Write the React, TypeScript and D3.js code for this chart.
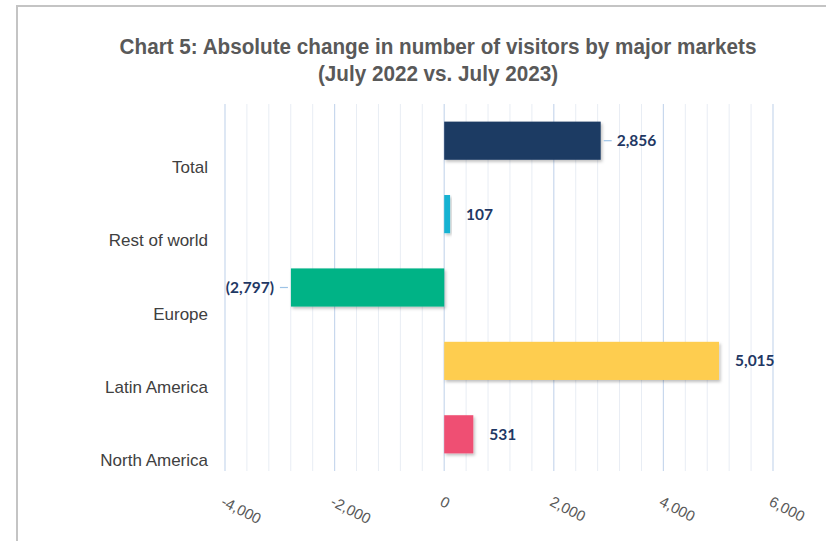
import React, { useEffect, useRef } from 'react';
import * as d3 from 'd3';

const categories = ['Total', 'Rest of world', 'Europe', 'Latin America', 'North America'];
const changes = [2856, 107, -2797, 5015, 531];
const barColors = ['#1b3a64', '#17b2d2', '#00b386', '#fecd4f', '#ef4f73'];
const withLeader = [true, false, true, false, false];
const xTicks = [-4000, -2000, 0, 2000, 4000, 6000];
const titleLines = [
  'Chart 5: Absolute change in number of visitors by major markets',
  '(July 2022 vs. July 2023)',
];

function App() {
  const svgRef = useRef<SVGSVGElement>(null);

  useEffect(() => {
    const width = 826;
    const height = 541;
    const plot = { left: 225, right: 773, top: 104, bottom: 471 };

    const svg = d3.select(svgRef.current);
    svg.selectAll('*').remove();

    // frame (only top and left edges visible in the crop)
    svg.append('path')
      .attr('d', `M17,${height} L17,6 L${width},6`)
      .attr('fill', 'none')
      .attr('stroke', '#c4c4c4')
      .attr('stroke-width', 2);

    // no narrow font installed, so squeeze a regular bold one
    svg.append('g')
      .attr('transform', 'translate(438,0) scale(0.94,1)')
      .selectAll('text')
      .data(titleLines)
      .join('text')
      .attr('x', 0)
      .attr('y', (d, i) => 54 + i * 27)
      .attr('text-anchor', 'middle')
      .style('font-family', '"Liberation Sans", Arial, sans-serif')
      .style('font-weight', 'bold')
      .style('font-size', '22px')
      .style('fill', '#595959')
      .text(d => d);

    const x = d3.scaleLinear().domain([-4000, 6000]).range([plot.left, plot.right]);
    const y = d3.scaleBand().domain(categories).range([plot.top, plot.bottom]).paddingInner(0.48).paddingOuter(0.24);

    // minor gridlines every 400, major every 2000
    const minor = d3.range(-4000, 6001, 400).filter(v => v % 2000 !== 0);
    svg.append('g')
      .selectAll('line')
      .data(minor)
      .join('line')
      .attr('x1', d => x(d))
      .attr('x2', d => x(d))
      .attr('y1', plot.top)
      .attr('y2', plot.bottom)
      .attr('stroke', '#e8edf4')
      .attr('stroke-width', 1);

    svg.append('g')
      .selectAll('line')
      .data(xTicks)
      .join('line')
      .attr('x1', d => x(d))
      .attr('x2', d => x(d))
      .attr('y1', plot.top)
      .attr('y2', plot.bottom)
      .attr('stroke', '#c8d8ed')
      .attr('stroke-width', 1.2);

    const defs = svg.append('defs');
    const shadow = defs.append('filter').attr('id', 'barShadow').attr('x', '-10%').attr('y', '-10%').attr('width', '130%').attr('height', '140%');
    shadow.append('feDropShadow')
      .attr('dx', 1.5)
      .attr('dy', 2)
      .attr('stdDeviation', 1.5)
      .attr('flood-color', '#000')
      .attr('flood-opacity', 0.25);

    const data = categories.map((c, i) => ({ cat: c, value: changes[i], color: barColors[i], leader: withLeader[i] }));

    svg.append('g')
      .selectAll('rect')
      .data(data)
      .join('rect')
      .attr('x', d => x(Math.min(0, d.value)))
      .attr('y', d => y(d.cat)!)
      .attr('width', d => Math.abs(x(d.value) - x(0)))
      .attr('height', y.bandwidth())
      .attr('fill', d => d.color)
      .attr('filter', 'url(#barShadow)');

    // category labels
    svg.append('g')
      .selectAll('text')
      .data(categories)
      .join('text')
      .attr('x', 208)
      .attr('y', d => y(d)! + y.bandwidth() / 2 + 32)
      .attr('text-anchor', 'end')
      .style('font-family', '"Liberation Sans", Arial, sans-serif')
      .style('font-size', '17px')
      .style('fill', '#404040')
      .text(d => d);

    const comma = d3.format(',');
    const fmt = (v: number) => (v < 0 ? `(${comma(-v)})` : comma(v));

    // leader lines
    svg.append('g')
      .selectAll('line')
      .data(data.filter(d => d.leader))
      .join('line')
      .attr('x1', d => x(d.value) + (d.value < 0 ? -3 : 3))
      .attr('x2', d => x(d.value) + (d.value < 0 ? -11 : 11))
      .attr('y1', d => y(d.cat)! + y.bandwidth() / 2)
      .attr('y2', d => y(d.cat)! + y.bandwidth() / 2)
      .attr('stroke', '#9dc3e6')
      .attr('stroke-width', 1.2);

    svg.append('g')
      .selectAll('text')
      .data(data)
      .join('text')
      .attr('x', d => x(d.value) + (d.value < 0 ? -17 : 16))
      .attr('y', d => y(d.cat)! + y.bandwidth() / 2)
      .attr('dy', '0.36em')
      .attr('text-anchor', d => (d.value < 0 ? 'end' : 'start'))
      .style('font-family', 'Lato, "Open Sans", sans-serif')
      .style('font-weight', 'bold')
      .style('font-size', '15.5px')
      .style('fill', '#1f3864')
      .text(d => fmt(d.value));

    // rotated x tick labels, plain hyphen for negatives like Excel
    svg.append('g')
      .selectAll('text')
      .data(xTicks)
      .join('text')
      .attr('transform', d => `translate(${x(d)},${495}) rotate(27)`)
      .attr('dy', '0.75em')
      .attr('text-anchor', 'start')
      .style('font-family', '"Liberation Sans", Arial, sans-serif')
      .style('font-size', '15px')
      .style('fill', '#595959')
      .text(d => (d < 0 ? '-' + comma(-d) : comma(d)));
  }, []);

  return (
    <>
      <style>{'body{margin:0}'}</style>
      <svg ref={svgRef} width={826} height={541} style={{ display: 'block', background: '#fff' }} />
    </>
  );
}

export default App;
